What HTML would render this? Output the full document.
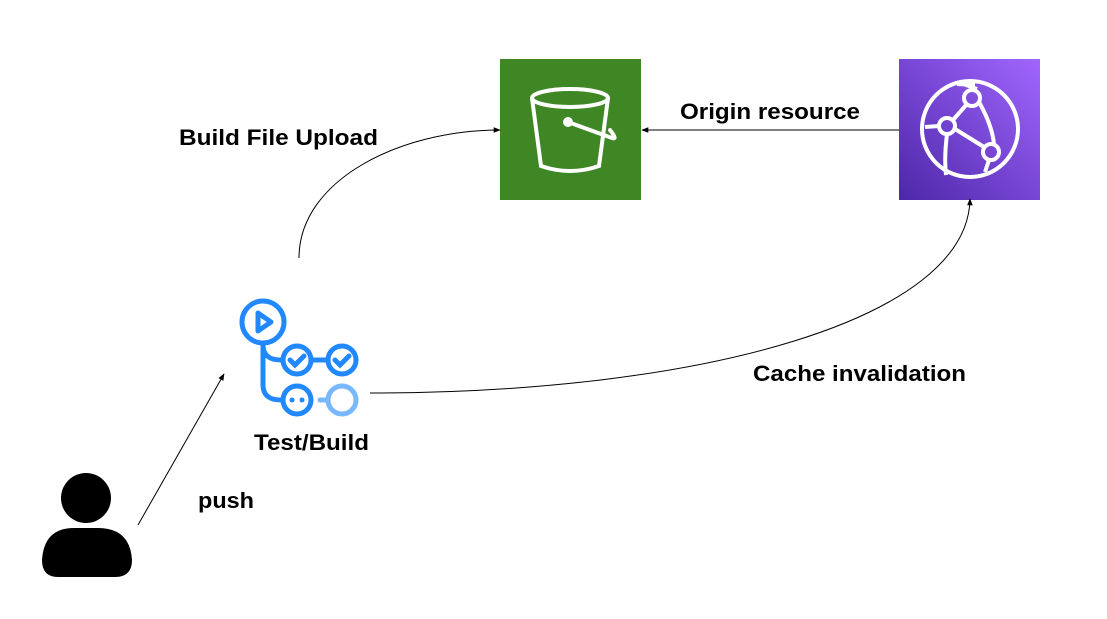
<!DOCTYPE html>
<html><head><meta charset="utf-8"><style>html,body{margin:0;padding:0;background:#fff}text{font-family:"Liberation Sans","Noto Sans CJK KR",sans-serif;font-weight:bold;font-size:22px;fill:#000}</style></head><body>
<svg width="1107" height="614" viewBox="0 0 1107 614" xmlns="http://www.w3.org/2000/svg">
<defs>
<marker id="a" viewBox="0 0 10 10" refX="9" refY="5" markerWidth="7" markerHeight="7" orient="auto"><path d="M0,1 L10,5 L0,9 z" fill="#000"/></marker>
<linearGradient id="cf" x1="0" y1="1" x2="1" y2="0"><stop offset="0" stop-color="#4D27A8"/><stop offset="1" stop-color="#A166FF"/></linearGradient>
</defs>
<rect x="500" y="59" width="141" height="141" fill="#3F8624"/>
<g fill="none" stroke="#fff" stroke-width="4" stroke-linecap="round">
<ellipse cx="570" cy="98" rx="38" ry="9"/>
<path d="M532,98 L541,166 Q570,176 599,166 L608,98"/>
<circle cx="568" cy="122" r="3" fill="#fff"/>
<path d="M568,122 L612,138 Q618,140 610,130"/>
</g>
<rect x="899" y="59" width="141" height="141" fill="url(#cf)"/>
<g fill="none" stroke="#fff" stroke-width="4">
<circle cx="970" cy="129" r="48"/>
<circle cx="972" cy="98" r="8"/><circle cx="947" cy="126" r="8"/><circle cx="991" cy="152" r="8"/>
<path d="M967,104 L953,120 M955,129 L984,147 M939,126 L925,127 M977,89 L958,82 M979,102 Q992,125 994,144 M947,134 Q944,158 946,175 M989,160 L985,172 M957,84 L975,85"/>
</g>
<circle cx="86" cy="498" r="25" fill="#000"/>
<path d="M42,560 Q44,528 74,528 L98,528 Q130,528 132,560 Q132,577 115,577 L58,577 Q42,577 42,560 z" fill="#000"/>
<g fill="none" stroke="#2188FF" stroke-width="5" stroke-linecap="round">
<circle cx="263" cy="322" r="21"/>
<path d="M258,313 L258,331 L271,322 z" stroke-linejoin="round"/>
<path d="M263,343 L263,385 Q263,400 281,400 M263,345 Q263,360 281,360"/>
<circle cx="297" cy="360" r="14"/><circle cx="342" cy="360" r="14"/><circle cx="297" cy="400" r="14"/>
<path d="M311,360 L328,360"/>
<path d="M290,360 L295,365 L304,356 M335,360 L340,365 L349,356"/>
</g>
<circle cx="292" cy="400" r="2.5" fill="#2188FF"/><circle cx="302" cy="400" r="2.5" fill="#2188FF"/>
<circle cx="342" cy="400" r="14" fill="none" stroke="#79B8FF" stroke-width="5"/>
<path d="M320,400 L326,400" stroke="#79B8FF" stroke-width="5" stroke-linecap="round"/>
<g fill="none" stroke="#000" stroke-width="1">
<path d="M138,525 L224,374" marker-end="url(#a)"/>
<path d="M299,258 C299,180 400,130 500,130" marker-end="url(#a)"/>
<path d="M899,130 L642,130" marker-end="url(#a)"/>
<path d="M370,393 C700,393 968,320 970,199" marker-end="url(#a)"/>
</g>
<text x="179" y="145" textLength="199" lengthAdjust="spacingAndGlyphs">Build File Upload</text>
<text x="680" y="119" textLength="180" lengthAdjust="spacingAndGlyphs">Origin resource</text>
<text x="753" y="381" textLength="213" lengthAdjust="spacingAndGlyphs">Cache invalidation</text>
<text x="254" y="450" textLength="115" lengthAdjust="spacingAndGlyphs">Test/Build</text>
<text x="198" y="508" textLength="56" lengthAdjust="spacingAndGlyphs">push</text>
</svg>
</body></html>
